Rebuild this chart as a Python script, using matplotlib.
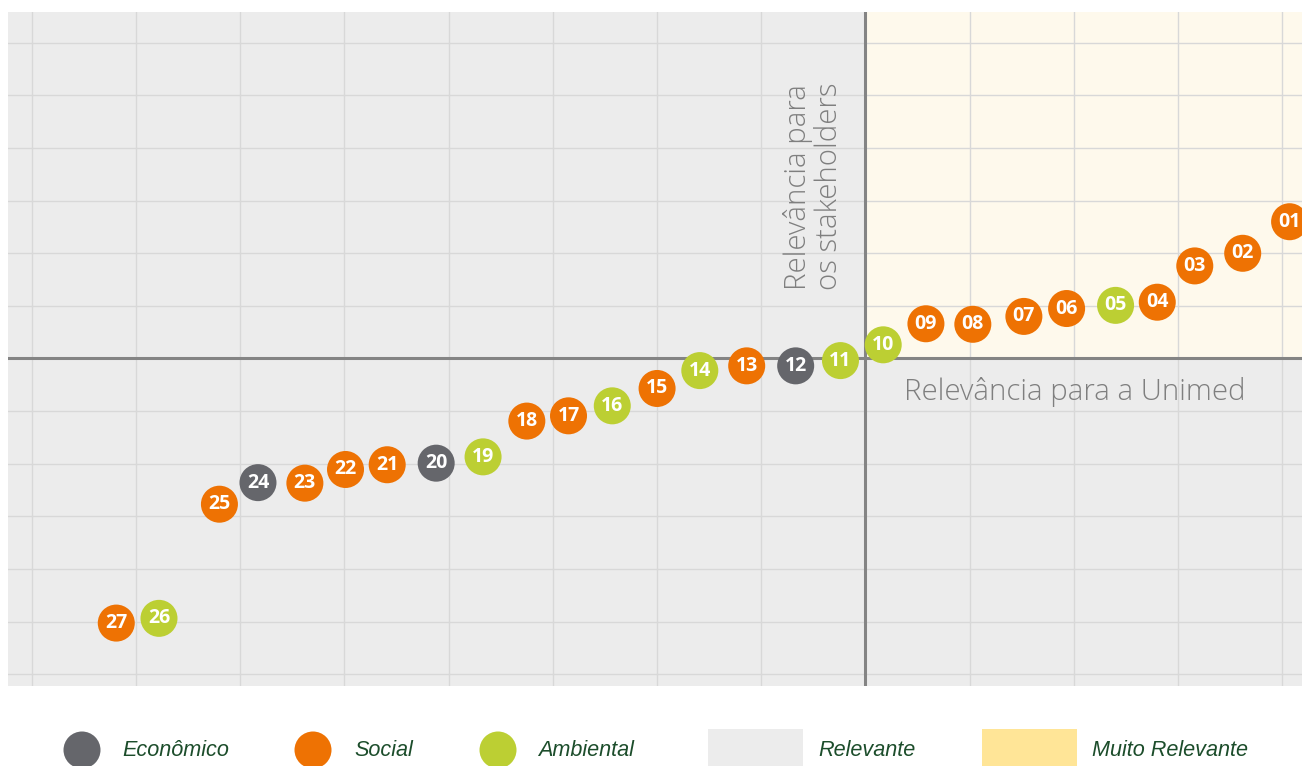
import matplotlib.pyplot as plt
from matplotlib.patches import Rectangle

# topic numbers with position (x = relevance for Unimed, y = relevance for stakeholders)
labels = ["01", "02", "03", "04", "05", "06", "07", "08", "09", "10",
          "11", "12", "13", "14", "15", "16", "17", "18", "19", "20",
          "21", "22", "23", "24", "25", "26", "27"]
x_vals = [4.07, 3.62, 3.16, 2.80, 2.40, 1.93, 1.52, 1.03, 0.58, 0.17,
          -0.24, -0.67, -1.14, -1.59, -2.00, -2.43, -2.85, -3.25, -3.67, -4.12,
          -4.59, -4.99, -5.38, -5.83, -6.20, -6.78, -7.19]
y_vals = [2.60, 2.00, 1.76, 1.07, 1.01, 0.95, 0.80, 0.65, 0.66, 0.26,
          -0.04, -0.14, -0.14, -0.23, -0.57, -0.90, -1.09, -1.19, -1.87, -1.99,
          -2.02, -2.11, -2.37, -2.36, -2.77, -4.94, -5.03]
dims = ["S", "S", "S", "S", "A", "S", "S", "S", "S", "A",
        "A", "E", "S", "A", "S", "A", "S", "S", "A", "E",
        "S", "S", "S", "E", "S", "A", "S"]

dim_colors = {"E": "#65666b", "S": "#ee7203", "A": "#bccf33"}
gray_bg = "#ececec"
cream_bg = "#fef9ec"
legend_yellow = "#ffe597"
text_green = "#1c4d2b"

fig = plt.figure(figsize=(13.02, 7.66), dpi=100)
ax = fig.add_axes([8 / 1302, 1 - 686 / 766, 1 - 8 / 1302, 674 / 766])
ax.set_xlim(-8.229, 4.189)
ax.set_ylim(-6.226, 6.587)
ax.set_facecolor(gray_bg)

# "muito relevante" quadrant
ax.add_patch(Rectangle((0, 0), 10, 10, facecolor=cream_bg, edgecolor="none", zorder=0))

for gx in range(-8, 5):
    ax.axvline(gx, color="#d8d8d8", lw=1.0, zorder=1)
for gy in range(-6, 7):
    ax.axhline(gy, color="#d8d8d8", lw=1.0, zorder=1)
ax.axvline(0, color="#848484", lw=2.2, zorder=2)
ax.axhline(0, color="#848484", lw=2.2, zorder=2)

cols = [dim_colors[d] for d in dims]
ax.scatter(x_vals, y_vals, s=710, c=cols, edgecolors="none", zorder=3)
for lab, x, y in zip(labels, x_vals, y_vals):
    ax.text(x, y, lab, color="white", fontsize=14, fontweight="bold",
            family="Open Sans", ha="center", va="center", zorder=4)

ax.text(0.37, -0.79, "Relevância para a Unimed", color="#7f7f7f", fontsize=21.2,
        family="Open Sans", fontweight="light", ha="left", va="baseline", zorder=2)
ax.text(-0.50, 1.30, "Relevância para\nos stakeholders", color="#7f7f7f", fontsize=21.2,
        family="Open Sans", fontweight="light", rotation=90, ha="center", va="bottom",
        multialignment="left", linespacing=1.1, zorder=2)

ax.set_xticks([])
ax.set_yticks([])
for sp in ax.spines.values():
    sp.set_visible(False)

# legend strip along the bottom, in pixel units
lg = fig.add_axes([0, 0, 1, 80 / 766])
lg.set_xlim(0, 1302)
lg.set_ylim(0, 80)
lg.axis("off")
leg_items = [("E", "Econômico", 82, 122), ("S", "Social", 313, 354), ("A", "Ambiental", 498, 538)]
for key, name, cx, tx in leg_items:
    lg.scatter([cx], [16], s=710, color=dim_colors[key], edgecolors="none", clip_on=False)
    lg.text(tx, 15, name, color=text_green, fontsize=15.6, style="italic",
            family="Liberation Sans", ha="left", va="center")
lg.add_patch(Rectangle((708, 0), 95, 37, facecolor=gray_bg, edgecolor="none"))
lg.text(818, 15, "Relevante", color=text_green, fontsize=15.6, style="italic",
        family="Liberation Sans", ha="left", va="center")
lg.add_patch(Rectangle((982, 0), 95, 37, facecolor=legend_yellow, edgecolor="none"))
lg.text(1092, 15, "Muito Relevante", color=text_green, fontsize=15.6, style="italic",
        family="Liberation Sans", ha="left", va="center")

fig.savefig("out.png", dpi=100)
